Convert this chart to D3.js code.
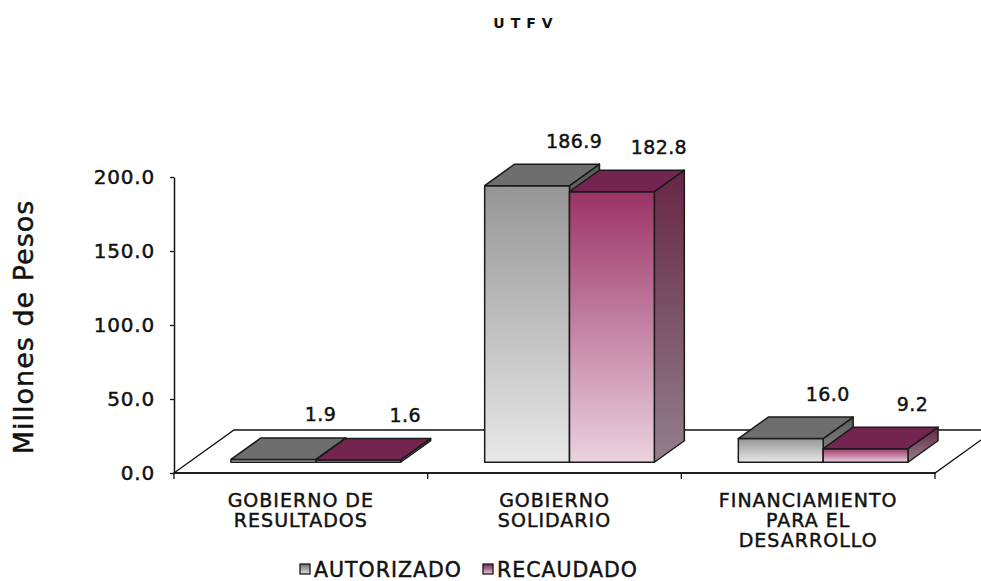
<!DOCTYPE html>
<html>
<head>
<meta charset="utf-8">
<script src="https://cdn.jsdelivr.net/npm/d3@7/dist/d3.min.js"></script>
<style>
  html, body { margin: 0; padding: 0; background: #ffffff; }
  svg { display: block; font-family: "DejaVu Sans", sans-serif; }
  text { stroke: #111; stroke-width: 0.45px; paint-order: stroke; }
</style>
</head>
<body>
<svg id="chart" width="981" height="581"></svg>
<script>
// ---- data ----
const categories = ["GOBIERNO DE RESULTADOS", "GOBIERNO SOLIDARIO", "FINANCIAMIENTO PARA EL DESARROLLO"];
const categoryLines = [["GOBIERNO DE", "RESULTADOS"], ["GOBIERNO", "SOLIDARIO"], ["FINANCIAMIENTO", "PARA EL", "DESARROLLO"]];
const seriesNames = ["AUTORIZADO", "RECAUDADO"];
const autorizado = [1.9, 186.9, 16.0];
const recaudado = [1.6, 182.8, 9.2];
const yTicks = [0, 50, 100, 150, 200];
const title = "UTFV";
const yTitle = "Millones de Pesos";

// ---- layout ----
const svg = d3.select("#chart");
const x0 = 174, x1 = 935, yBase = 473, yTop = 177;
const DX = 60, DY = -43;          // full floor depth
const x = d3.scaleBand().domain(categories).range([x0, x1]).paddingInner(0).paddingOuter(0);
const y = d3.scaleLinear().domain([0, 200]).range([yBase, yTop]);
const series = [
  { name: seriesNames[0], values: autorizado, front: "gFrontGrey", top: "#6e6e6e", side: "gSideGrey" },
  { name: seriesNames[1], values: recaudado, front: "gFrontPink", top: "#74254f", side: "gSidePink" }
];

// gradients
const defs = svg.append("defs");
function vgrad(id, stops) {
  const g = defs.append("linearGradient").attr("id", id).attr("x1", 0).attr("y1", 0).attr("x2", 0).attr("y2", 1);
  stops.forEach(([o, c]) => g.append("stop").attr("offset", o).attr("stop-color", c));
}
vgrad("gFrontGrey", [[0, "#969696"], [1, "#e8e8e8"]]);
vgrad("gSideGrey", [[0, "#5c5c5c"], [1, "#8a8a8a"]]);
vgrad("gFrontPink", [[0, "#9b3366"], [1, "#ebd2de"]]);
vgrad("gSidePink", [[0, "#662645"], [1, "#928089"]]);
vgrad("gLegGrey", [[0, "#6e6e6e"], [1, "#e0e0e0"]]);
vgrad("gLegPink", [[0, "#74254f"], [1, "#e6c4d4"]]);

// title
svg.append("text").attr("x", 526).attr("y", 28).attr("text-anchor", "middle")
  .attr("font-size", 14).attr("font-weight", "bold").attr("letter-spacing", 6).attr("fill", "#111")
  .style("stroke-width", "0px").text(title);

// floor
svg.append("polygon")
  .attr("points", [[x0, yBase], [x0 + DX, yBase + DY], [x1 + DX, yBase + DY], [x1, yBase]].map(p => p.join(",")).join(" "))
  .attr("fill", "#ffffff").attr("stroke", "#111").attr("stroke-width", 1.3);

// y axis
const yAxis = d3.axisLeft(y).tickValues(yTicks).tickFormat(d3.format(".1f")).tickSize(4).tickSizeOuter(0).tickPadding(15);
const gy = svg.append("g").attr("transform", `translate(${x0},0)`).call(yAxis);
gy.select(".domain").attr("stroke", "#111").attr("stroke-width", 1.5);
gy.selectAll(".tick line").attr("stroke", "#111").attr("stroke-width", 1.3);
gy.selectAll(".tick text").attr("font-size", 20).attr("fill", "#111").attr("font-family", "DejaVu Sans").attr("letter-spacing", 0.8);

// x axis baseline + ticks
const gx = svg.append("g");
gx.append("line").attr("x1", x0).attr("x2", x1).attr("y1", yBase).attr("y2", yBase).attr("stroke", "#111").attr("stroke-width", 1.6);
const bounds = categories.map(c => x(c)).concat([x1]);
gx.selectAll("line.tk").data(bounds).join("line").attr("class", "tk")
  .attr("x1", d => d).attr("x2", d => d).attr("y1", yBase).attr("y2", yBase + 6)
  .attr("stroke", "#111").attr("stroke-width", 1.3);

// bars (3D)
const gap = 42, fdx = DX * 0.25, fdy = DY * 0.25, bdx = DX * 0.5, bdy = DY * 0.5;
const bw = (x.bandwidth() - 2 * gap) / 2;
const gb = svg.append("g");
categories.forEach((c, i) => {
  series.forEach((s, k) => {
    const v = s.values[i];
    const bx = x(c) + gap + k * bw + fdx;
    const yb = y(0) + fdy, yt = y(v) + fdy;
    const g = gb.append("g").attr("stroke", "#1a1a1a").attr("stroke-width", 1.5).attr("stroke-linejoin", "round");
    g.append("polygon").attr("points", [[bx + bw, yt], [bx + bw + bdx, yt + bdy], [bx + bw + bdx, yb + bdy], [bx + bw, yb]].map(p => p.join(",")).join(" "))
      .attr("fill", `url(#${s.side})`);
    g.append("rect").attr("x", bx).attr("y", yt).attr("width", bw).attr("height", Math.max(0.5, yb - yt))
      .attr("fill", `url(#${s.front})`);
    g.append("polygon").attr("points", [[bx, yt], [bx + bdx, yt + bdy], [bx + bw + bdx, yt + bdy], [bx + bw, yt]].map(p => p.join(",")).join(" "))
      .attr("fill", s.top);
    // data label
    svg.append("text").attr("x", bx + bw / 2 + 47).attr("y", yt - 38)
      .attr("text-anchor", "middle").attr("font-size", 19).attr("fill", "#111").attr("letter-spacing", 0.4)
      .text(d3.format(".1f")(v));
  });
});

// category labels
categories.forEach((c, i) => {
  const t = svg.append("text").attr("x", x(c) + x.bandwidth() / 2).attr("y", 507)
    .attr("text-anchor", "middle").attr("font-size", 19).attr("fill", "#111").attr("letter-spacing", 1);
  categoryLines[i].forEach((ln, j) => {
    t.append("tspan").attr("x", x(c) + x.bandwidth() / 2).attr("dy", j === 0 ? 0 : 20).text(ln);
  });
});

// y title
svg.append("text").attr("transform", "translate(33,327) rotate(-90)").attr("text-anchor", "middle")
  .attr("font-size", 27).attr("fill", "#111").attr("letter-spacing", 1).text(yTitle);

// legend
const legX = [300, 483];
series.forEach((s, k) => {
  svg.append("rect").attr("x", legX[k]).attr("y", 564).attr("width", 10).attr("height", 10)
    .attr("fill", k === 0 ? "url(#gLegGrey)" : "url(#gLegPink)").attr("stroke", "#1a1a1a").attr("stroke-width", 1.3);
  svg.append("text").attr("x", legX[k] + 14).attr("y", 577).attr("font-size", 20.5).attr("fill", "#111")
    .attr("letter-spacing", 1).text(s.name);
});
</script>
</body>
</html>
